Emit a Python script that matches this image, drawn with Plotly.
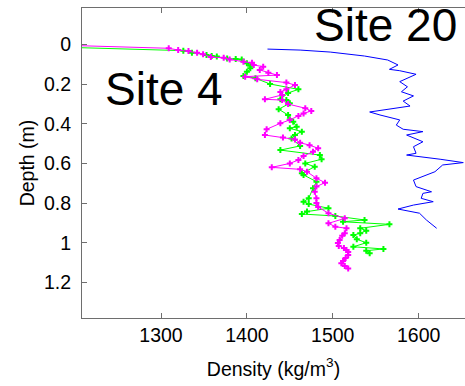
import plotly.graph_objects as go

# Site 20 density profile (kg/m^3) vs depth (m)
site20_density = [1424, 1462, 1497, 1537, 1564, 1576, 1566, 1578, 1597, 1578, 1587, 1580,
                  1594, 1582, 1590, 1543, 1555, 1578, 1574, 1582, 1605, 1586, 1605, 1594,
                  1597, 1586, 1625, 1652, 1628, 1619, 1594, 1597, 1615, 1605, 1603, 1617,
                  1594, 1576, 1601, 1609, 1621]
site20_depth = [0.024, 0.029, 0.039, 0.059, 0.079, 0.104, 0.126, 0.133, 0.151, 0.188, 0.214, 0.239,
                0.260, 0.286, 0.311, 0.341, 0.356, 0.381, 0.407, 0.428, 0.440, 0.457, 0.491, 0.516,
                0.549, 0.558, 0.579, 0.596, 0.608, 0.642, 0.684, 0.717, 0.743, 0.751, 0.776, 0.793,
                0.810, 0.830, 0.851, 0.885, 0.927]

# Site 4, first core (magenta)
site4a_density = [1150, 1309, 1320, 1332, 1342, 1349, 1358, 1373, 1380, 1396, 1406, 1408, 1419,
                  1415, 1425, 1435, 1398, 1412, 1446, 1456, 1446, 1439, 1441, 1421, 1441, 1448,
                  1468, 1475, 1466, 1460, 1450, 1439, 1423, 1421, 1442, 1456, 1462, 1473, 1483,
                  1477, 1466, 1460, 1450, 1429, 1462, 1470, 1481, 1491, 1481, 1479, 1481, 1481,
                  1483, 1495, 1514, 1495, 1503, 1516, 1514, 1511, 1508, 1506, 1507, 1513, 1516,
                  1518, 1518, 1515, 1512, 1510, 1514, 1518]
site4a_depth = [0.000, 0.020, 0.029, 0.034, 0.042, 0.050, 0.064, 0.068, 0.076, 0.088, 0.093, 0.104, 0.113,
                0.129, 0.143, 0.155, 0.163, 0.176, 0.193, 0.205, 0.227, 0.240, 0.255, 0.277, 0.281, 0.301,
                0.322, 0.336, 0.348, 0.361, 0.381, 0.398, 0.428, 0.457, 0.469, 0.479, 0.496, 0.508, 0.524,
                0.541, 0.563, 0.583, 0.600, 0.620, 0.630, 0.642, 0.675, 0.697, 0.717, 0.743, 0.776, 0.800,
                0.820, 0.851, 0.877, 0.902, 0.919, 0.927, 0.952, 0.965, 0.986, 1.001, 1.016, 1.026, 1.036,
                1.046, 1.062, 1.077, 1.092, 1.103, 1.117, 1.129]

# Site 4, second core (green)
site4b_density = [1150, 1326, 1336, 1353, 1359, 1365, 1377, 1387, 1394, 1400, 1404, 1404, 1400,
                  1396, 1410, 1427, 1460, 1448, 1439, 1446, 1450, 1437, 1448, 1450, 1454, 1458,
                  1450, 1464, 1456, 1452, 1462, 1439, 1485, 1487, 1468, 1479, 1464, 1466, 1481,
                  1477, 1472, 1466, 1472, 1495, 1470, 1464, 1503, 1537, 1512, 1566, 1532, 1539,
                  1532, 1524, 1528, 1539, 1524, 1559, 1539, 1543]
site4b_depth = [0.010, 0.032, 0.042, 0.054, 0.059, 0.062, 0.071, 0.074, 0.076, 0.096, 0.108, 0.121, 0.138,
                0.160, 0.171, 0.200, 0.227, 0.245, 0.277, 0.281, 0.297, 0.327, 0.356, 0.378, 0.390, 0.415,
                0.423, 0.440, 0.457, 0.474, 0.512, 0.533, 0.558, 0.579, 0.600, 0.617, 0.650, 0.658, 0.692,
                0.725, 0.776, 0.793, 0.805, 0.826, 0.843, 0.855, 0.865, 0.885, 0.894, 0.907, 0.927, 0.939,
                0.952, 0.961, 0.982, 1.000, 1.020, 1.031, 1.040, 1.053]

x_ticks = [1300, 1400, 1500, 1600]
y_ticks = [0, 0.2, 0.4, 0.6, 0.8, 1, 1.2]
y_tick_text = ["0", "0.2", "0.4", "0.6", "0.8", "1", "1.2"]

font_family = "Liberation Sans, Arial, sans-serif"
axis_color = "#6e6e6e"

fig = go.Figure()
fig.add_trace(go.Scatter(x=site20_density, y=site20_depth, mode="lines",
                         line=dict(color="#0000ff", width=1), name="Site 20"))
fig.add_trace(go.Scatter(x=site4b_density, y=site4b_depth, mode="lines+markers",
                         line=dict(color="#00ff00", width=1),
                         marker=dict(symbol="cross", size=5, color="#00ff00"),
                         name="Site 4 (b)"))
fig.add_trace(go.Scatter(x=site4a_density, y=site4a_depth, mode="lines+markers",
                         line=dict(color="#ff00ff", width=1),
                         marker=dict(symbol="cross", size=5, color="#ff00ff"),
                         name="Site 4 (a)"))

fig.add_annotation(text="Site 20", xref="paper", yref="paper", x=0.6, y=0.945,
                   xanchor="left", yanchor="middle", showarrow=False,
                   font=dict(family=font_family, size=46, color="black"))
fig.add_annotation(text="Site 4", xref="paper", yref="paper", x=0.055, y=0.738,
                   xanchor="left", yanchor="middle", showarrow=False,
                   font=dict(family=font_family, size=46, color="black"))

fig.update_layout(
    width=465, height=386,
    margin=dict(l=82, r=0, t=8, b=68),
    paper_bgcolor="white", plot_bgcolor="white",
    showlegend=False,
    font=dict(family=font_family, size=19, color="black"),
    xaxis=dict(range=[1208, 1654], tickvals=x_ticks, ticks="inside", ticklen=5,
               tickcolor=axis_color, showline=True, linecolor=axis_color, linewidth=1,
               mirror="ticks", showgrid=False, zeroline=False,
               tickfont=dict(size=19.5),
               title=dict(text="Density (kg/m<sup>3</sup>)", font=dict(size=19.5), standoff=16)),
    yaxis=dict(range=[1.379, -0.183], tickvals=y_ticks, ticktext=y_tick_text,
               ticks="inside", ticklen=5, tickcolor=axis_color, showline=True,
               linecolor=axis_color, linewidth=1, showgrid=False, zeroline=False,
               tickfont=dict(size=19.5), ticklabelstandoff=6,
               title=dict(text="Depth (m)", font=dict(size=19.5), standoff=4)),
)

fig.write_html("out.html")
